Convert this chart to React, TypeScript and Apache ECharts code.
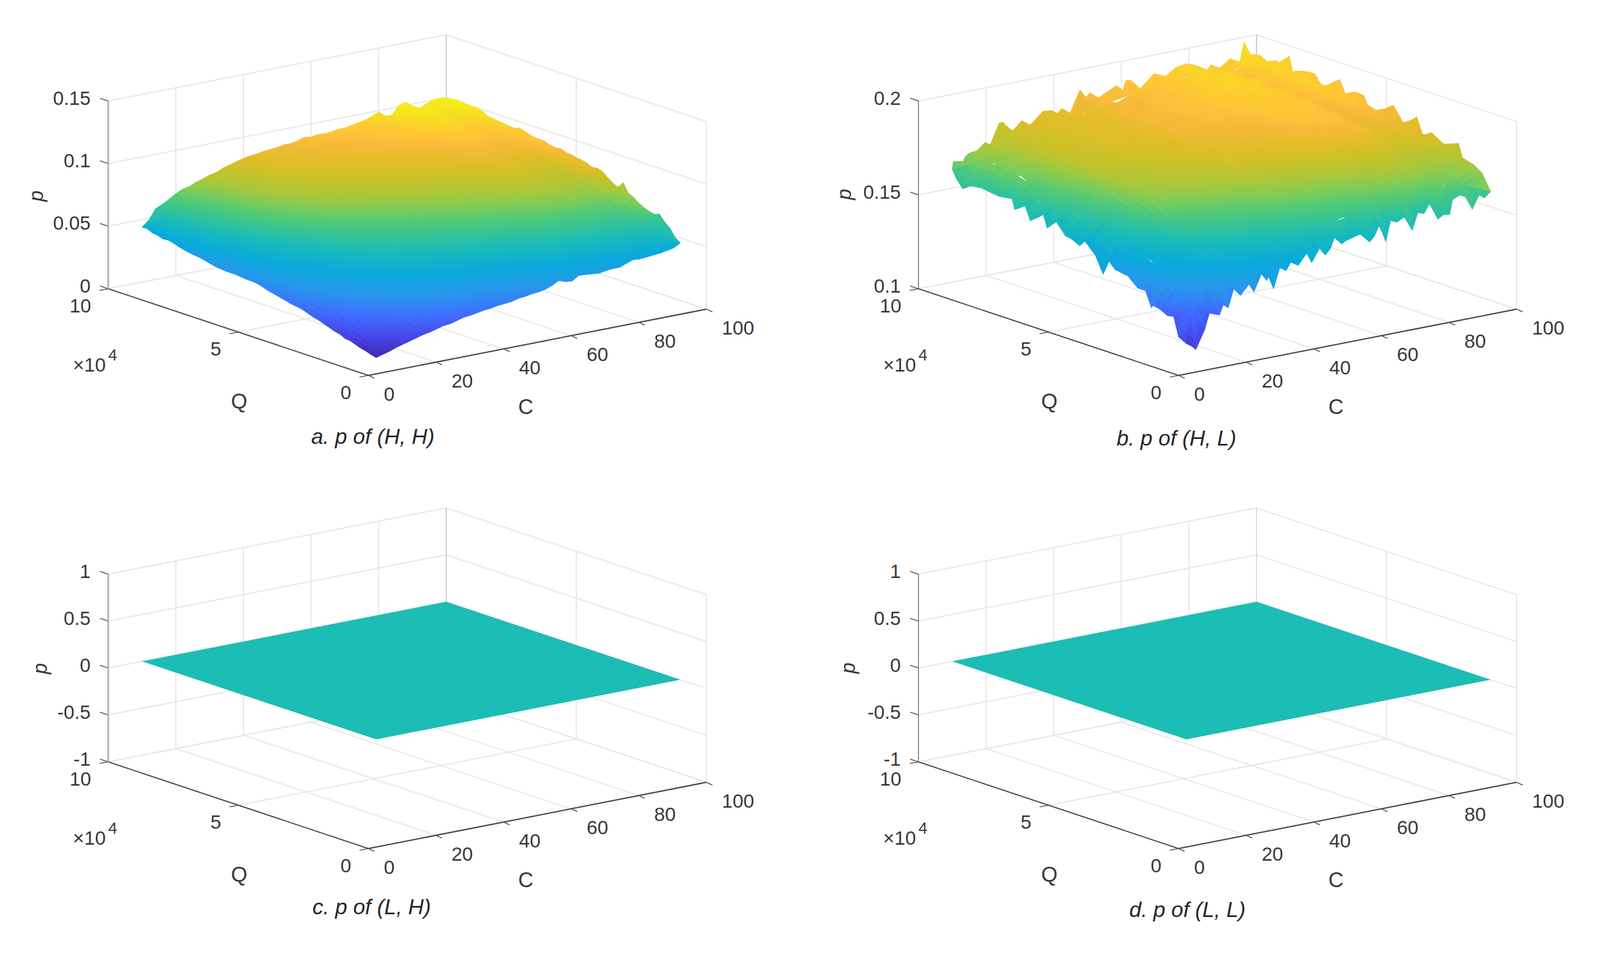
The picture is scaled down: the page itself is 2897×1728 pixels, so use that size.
import React, { useEffect, useRef } from "react";
import * as echarts from "echarts";

const C_TICKS = [0, 20, 40, 60, 80, 100];
const Q_TICKS = [0, 5, 10];
const INNER_C = [15, 20, 25, 30, 35, 40, 45, 50, 55, 60, 65, 70, 75, 80, 85, 90, 95];
const INNER_Q = [1.5, 2, 2.5, 3, 3.5, 4, 4.5, 5, 5.5, 6, 6.5, 7, 7.5, 8, 8.5, 9, 9.5];
const EDGE_C_STEPS = [10,12,14,16,18,20,22,24,26,28,30,32,34,36,38,40,42,44,46,48,50,52,54,56,58,60,62,64,66,68,70,72,74,76,78,80,82,84,86,88,90,92,94,96,98,100];
const EDGE_Q_STEPS = [1,1.2,1.4,1.6,1.8,2,2.2,2.4,2.6,2.8,3,3.2,3.4,3.6,3.8,4,4.2,4.4,4.6,4.8,5,5.2,5.4,5.6,5.8,6,6.2,6.4,6.6,6.8,7,7.2,7.4,7.6,7.8,8,8.2,8.4,8.6,8.8,9,9.2,9.4,9.6,9.8,10];

// p x 1000, rows are Q (INNER_Q), columns are C (INNER_C)
const HH_INNER = [
[12,15,21,24,27,29,31,33,35,38,40,43,45,46,47,48,50],
[17,21,26,30,33,36,38,40,41,44,46,49,51,52,53,54,55],
[21,26,31,36,39,41,43,45,47,50,52,54,56,57,58,59,59],
[25,30,35,40,43,46,48,50,51,54,56,58,60,61,62,63,63],
[29,34,39,44,47,50,52,54,56,58,60,62,64,65,67,67,67],
[32,38,43,47,51,54,56,58,59,62,63,65,67,69,70,71,70],
[35,41,47,51,54,57,59,61,63,65,67,69,71,72,74,74,74],
[38,44,49,54,57,60,62,64,66,68,70,71,73,75,77,77,76],
[40,47,52,57,60,63,65,67,69,71,73,74,76,78,80,80,79],
[43,49,55,59,63,66,68,70,72,74,75,77,79,81,83,83,82],
[45,52,58,62,66,69,71,74,75,77,78,80,82,84,86,86,85],
[47,54,60,65,68,72,74,76,77,79,81,82,84,86,88,88,87],
[49,57,62,67,71,74,76,78,80,82,83,84,86,88,91,91,89],
[51,58,64,69,73,76,78,80,81,83,84,86,88,89,92,93,92],
[53,60,65,71,74,78,80,82,83,85,87,88,90,92,94,96,94],
[54,61,67,72,76,80,82,84,85,87,88,89,91,93,96,97,96],
[56,63,68,73,77,81,83,85,86,88,89,90,92,94,98,99,98],
];
const HH_EDGE_Q10 = [44,48.5,56.5,59,62,65.5,68,69,71.5,73,75,76,78.5,80,81.5,83,84,84.5,85.5,86,86.5,87.5,87.5,88.5,90.5,89.5,90.5,90,90.5,91.5,91.5,92.5,93.5,94.5,96.5,99,94.5,94.5,101,102.5,98,95,98,100,100.5,99.5];
const HH_EDGE_Q1 = [2,3.5,5,7,8.5,10,11.5,13,14,15.5,17,17.5,19,20.5,21,22,23,23.5,24.5,25,25.5,27,27.5,28.5,29,30,32,35,33,32.5,36,35.5,35,34.5,35.5,36,36,38,40,39.5,40,40.5,41,42,43,46];
const HH_EDGE_C10 = [2,3,4.5,5.5,7,8.5,9,11,12,13.5,15,16.5,17.5,19,20.5,21.5,22,23,24,25,26,27,28.5,29.5,30,30,30.5,31,31,31,31.5,32,33,34,35,35.5,36,37,38,39.5,40.5,40,41.5,42,44,44];
const HH_EDGE_C100 = [46,49,55,58.5,63.5,62,63,64.5,67,70,72,79,74,76,79,82.5,83.5,83,85,86,86.5,87.5,88,89.5,89,89.5,91,91.5,91.5,92.5,94,95,93.5,94,94.5,95,95.5,96,98.5,100,99.5,100,100.5,101,100,99.5];

const HL_INNER = [
[124,132,138,142,143,147,148,152,153,156,155,159,159,162,160,163,161],
[133,137,147,146,151,152,156,156,160,160,162,163,166,166,168,166,168],
[136,143,150,154,155,159,159,164,163,166,165,169,169,173,171,170,171],
[142,147,158,157,162,161,165,166,169,169,171,172,175,175,177,172,175],
[144,152,160,163,164,168,167,172,171,175,173,178,177,181,179,177,178],
[149,155,167,165,170,169,173,174,177,177,179,180,183,182,184,178,182],
[150,159,167,170,171,174,173,179,177,181,179,184,183,186,184,181,184],
[154,159,171,170,175,174,177,179,181,180,183,183,187,186,186,181,185],
[154,163,171,173,174,177,177,182,180,184,182,186,186,187,185,184,187],
[158,162,174,172,177,176,179,181,183,182,185,185,188,187,188,182,187],
[158,165,173,176,176,179,178,184,182,186,184,188,187,188,187,185,188],
[161,165,176,174,179,177,181,182,184,184,186,187,189,188,189,184,189],
[160,167,174,177,178,180,179,185,183,186,185,188,188,190,188,186,190],
[164,166,177,175,180,178,181,183,185,185,187,188,190,189,190,184,190],
[163,169,175,177,178,180,179,185,182,186,185,189,188,191,189,187,191],
[166,167,177,175,180,178,181,183,184,184,186,187,190,189,190,184,190],
[165,170,175,177,178,180,179,185,182,186,184,189,188,191,188,187,191],
];
// [C or Q, p x 1000] read along each rim of the surface
const HL_EDGE_Q10 = [[10,160],[10.3,164],[12.8,161.6],[13.9,165.6],[15,167],[17.2,167.4],[19.7,171],[21.2,169],[23.8,179.7],[24.9,180],[27.4,173.5],[30.6,178.8],[32.5,174.7],[36.8,181.5],[39.4,181],[40.6,178.5],[42.4,181],[44.5,176.5],[47.8,189],[49.3,184],[50.7,186.5],[53,182.6],[58.5,187.6],[59.9,182],[61.4,189.4],[62.8,189],[65,182.4],[69.7,190],[73,187.4],[76.2,191],[79,192],[81.4,190.6],[84.3,183.8],[86.5,188.8],[89,186],[92.3,190],[95,186.5],[96.3,197.6],[97,188.7],[98.9,190],[100,189.5]];
const HL_EDGE_C100 = [[10,189.5],[9.8,189.4],[9.53,186.8],[9.24,189.7],[8.9,188],[8.74,194.4],[8.55,183.5],[8.2,189],[7.77,189.7],[7.53,185.3],[7.07,183.5],[6.8,191],[6.5,181.8],[6.2,187],[5.87,186.8],[5.73,182.4],[5.16,180],[4.74,186.8],[4.3,178],[3.84,184.7],[3.6,176],[3.27,179],[2.8,175],[2.23,178],[2.08,171],[1.65,169.4],[1.33,166.5],[1,158]];
const HL_EDGE_Q1 = [[100,158],[98.2,155.3],[96.7,157.6],[94.6,150.6],[93.1,157.4],[90.9,159.4],[88.7,157.6],[87.9,150],[86,150.6],[84.4,148.8],[82.2,158.8],[80.3,153.2],[78.5,154.4],[76.8,145.6],[74.5,153.5],[72.3,151.5],[70.4,153],[69,142.4],[67.2,152.4],[65.7,146.5],[64.2,143.8],[61.4,149],[57,146.8],[56,145.6],[53.8,149.7],[52.6,144.4],[51.1,141.4],[49.4,145.6],[47.1,138.9],[45.7,144.7],[43.1,138.8],[40.9,141.2],[39.5,137.3],[37.6,139.4],[35.8,129],[34.7,137.4],[33.8,134],[32.2,138],[30,129.4],[28.5,133.8],[26,128.8],[24,133],[22.4,123.5],[20.9,125.6],[19.8,120.6],[16.8,122.6],[15.4,114.3],[12.8,104.6],[11.5,107],[10,108.8]];
const HL_EDGE_C10 = [[1,108.8],[1.3,111],[1.49,121],[1.73,120.3],[2.03,122.4],[2.27,123.2],[2.35,121.8],[2.57,129.7],[2.87,129.7],[3.25,134.4],[3.75,135.6],[4.04,140],[4.2,131],[4.5,139.7],[4.9,145.3],[5.1,142],[5.4,144],[5.65,144.7],[6,150.6],[6.35,145.6],[6.5,152],[7,146.5],[7.2,153.5],[7.6,149.7],[7.7,155],[8.2,154],[8.6,154.7],[8.9,155.3],[9.3,154.4],[9.6,151.5],[9.85,156],[10,160]];

const LH_FLAT = [[0, 0], [0, 0]];
const LL_FLAT = [[0, 0], [0, 0]];

const FONT = "'Liberation Sans', Arial, sans-serif";
const TEXT = "#383838";

const withSteps = (steps: number[], vals: number[]) => steps.map((s, i) => [s, vals[i]]);

const PANELS: any[] = [
  { title: "a. p of (H, H)", ox: 0, oy: 0, titleX: 675, titleY: 790, pX: 65, pY: 355, zMin: 0, zMax: 0.15, zTicks: [0, 0.05, 0.1, 0.15], zLabels: ["0", "0.05", "0.1", "0.15"], range: [2, 103], inner: HH_INNER,
    edges: { q10: withSteps(EDGE_C_STEPS, HH_EDGE_Q10), c100: withSteps(EDGE_Q_STEPS, HH_EDGE_C100).reverse(), q1: withSteps(EDGE_C_STEPS, HH_EDGE_Q1).reverse(), c10: withSteps(EDGE_Q_STEPS, HH_EDGE_C10) }, zAxis: ["#adadad", 3], back: "#bdbdbd" },
  { title: "b. p of (H, L)", ox: 1467, oy: 0, titleX: 663, titleY: 793, pX: 61, pY: 352, zMin: 0.1, zMax: 0.2, zTicks: [0.1, 0.15, 0.2], zLabels: ["0.1", "0.15", "0.2"], range: [104, 198], inner: HL_INNER,
    edges: { q10: HL_EDGE_Q10, c100: HL_EDGE_C100, q1: HL_EDGE_Q1, c10: HL_EDGE_C10 }, zAxis: ["#707070", 1.6], back: "#bdbdbd" },
  { title: "c. p of (L, H)", ox: 0, oy: 857, titleX: 673, titleY: 785, pX: 72, pY: 354, zMin: -1, zMax: 1, zTicks: [-1, -0.5, 0, 0.5, 1], zLabels: ["-1", "-0.5", "0", "0.5", "1"], flat: LH_FLAT, zAxis: ["#adadad", 3], back: "#bdbdbd" },
  { title: "d. p of (L, L)", ox: 1467, oy: 857, titleX: 683, titleY: 790, pX: 68, pY: 353, zMin: -1, zMax: 1, zTicks: [-1, -0.5, 0, 0.5, 1], zLabels: ["-1", "-0.5", "0", "0.5", "1"], flat: LL_FLAT, zAxis: ["#707070", 1.6], back: "#d0d0d0" },
];

const PARULA: number[][] = [
  [0, 0.2422, 0.1504, 0.6603], [0.1, 0.2803, 0.2782, 0.9221], [0.2, 0.244, 0.4358, 0.9988], [0.3, 0.154, 0.5902, 0.9218],
  [0.4, 0.03, 0.67, 0.86], [0.5, 0.11, 0.74, 0.71], [0.6, 0.31, 0.79, 0.47], [0.65, 0.5, 0.8, 0.35], [0.7, 0.67, 0.78, 0.22],
  [0.75, 0.78, 0.76, 0.16], [0.8, 0.88, 0.74, 0.15], [0.85, 0.97, 0.73, 0.22], [0.875, 1, 0.765, 0.22], [0.9, 0.99, 0.8, 0.18],
  [0.95, 0.96, 0.9, 0.11], [1, 0.976, 0.983, 0.054],
];
function parula(t: number) {
  const v = Math.max(0, Math.min(1, t));
  let i = 0;
  while (i < PARULA.length - 2 && PARULA[i + 1][0] < v) i++;
  const a = PARULA[i], b = PARULA[i + 1];
  const f = (v - a[0]) / (b[0] - a[0]);
  const c = [1, 2, 3].map((k) => Math.round((a[k] + (b[k] - a[k]) * f) * 255));
  return `rgb(${c[0]},${c[1]},${c[2]})`;
}

const clamp = (v: number, a: number, b: number) => Math.max(a, Math.min(b, v));

function buildCells(panel: any) {
  const cells: any[] = [];
  if (panel.flat) {
    const f = panel.flat;
    cells.push({ pts: [[10, 1, f[0][0]], [100, 1, f[0][1]], [100, 10, f[1][1]], [10, 10, f[1][0]]], p: f[0][0], t: (f[0][0] - panel.zMin) / (panel.zMax - panel.zMin), stroke: false });
    return cells;
  }
  const T = panel.inner;
  const nC = INNER_C.length, nQ = INNER_Q.length;
  const innerAt = (C: number, Q: number) => {
    const x = clamp((C - 15) / 5, 0, nC - 1), y = clamp((Q - 1.5) / 0.5, 0, nQ - 1);
    const i = Math.min(nC - 2, Math.floor(x)), j = Math.min(nQ - 2, Math.floor(y));
    const fx = x - i, fy = y - j;
    return (T[j][i] * (1 - fx) * (1 - fy) + T[j][i + 1] * fx * (1 - fy) + T[j + 1][i] * (1 - fx) * fy + T[j + 1][i + 1] * fx * fy) / 1000;
  };
  const [lo, hi] = panel.range;
  const colourT = (p: number) => (p * 1000 - lo) / (hi - lo);
  const add = (pts: number[][], colourP?: number) => {
    const p = pts.reduce((s, q) => s + q[2], 0) / pts.length;
    cells.push({ pts, p, t: colourT(colourP === undefined ? p : colourP), stroke: true });
  };
  // Thin rim spikes are blurred into their neighbours in the picture, so a rim quad's colour follows the local rim level.
  const rimLevel = (list: number[][], k: number) => {
    let sum = 0, n = 0;
    for (let i = Math.max(0, k - 3); i <= Math.min(list.length - 1, k + 3); i++) { sum += list[i][1]; n++; }
    return sum / n / 1000;
  };
  const strip = (list: number[][], fixed: "Q" | "C", at: number) => {
    const L = 4;
    const outer = (s: number[]) => (fixed === "Q" ? [s[0], at, s[1] / 1000] : [at, s[0], s[1] / 1000]);
    const inward = (s: number[]) => {
      const C = fixed === "Q" ? clamp(s[0], 15, 95) : clamp(at, 15, 95);
      const Q = fixed === "Q" ? clamp(at, 1.5, 9.5) : clamp(s[0], 1.5, 9.5);
      return [C, Q, innerAt(C, Q)];
    };
    const mix = (a: number[], b: number[], f: number) => a.map((v, i) => v + (b[i] - v) * f);
    for (let k = 0; k < list.length - 1; k++) {
      const oa = outer(list[k]), ob = outer(list[k + 1]), ia = inward(list[k]), ib = inward(list[k + 1]);
      const level = (rimLevel(list, k) + rimLevel(list, k + 1)) / 2;
      const rimP = (oa[2] + ob[2]) / 2;
      const innerP = (ia[2] + ib[2]) / 2;
      const damped = level + (rimP - level) * 0.3;
      for (let l = 0; l < L; l++) {
        const s0 = l / L, s1 = (l + 1) / L;
        const sm = (s0 + s1) / 2;
        add([mix(oa, ia, s0), mix(ob, ib, s0), mix(ob, ib, s1), mix(oa, ia, s1)], damped + (innerP - damped) * sm);
      }
    }
  };
  strip(panel.edges.q10, "Q", 10);
  strip(panel.edges.c100, "C", 100);
  const S = 4;
  for (let j = nQ - 2; j >= 0; j--) {
    for (let i = nC - 2; i >= 0; i--) {
      for (let b = S - 1; b >= 0; b--) {
        for (let a = S - 1; a >= 0; a--) {
          const at = (u: number, v: number) => {
            const C = INNER_C[i] + (5 * u) / S, Q = INNER_Q[j] + (0.5 * v) / S;
            return [C, Q, innerAt(C, Q)];
          };
          add([at(a, b), at(a + 1, b), at(a + 1, b + 1), at(a, b + 1)]);
        }
      }
    }
  }
  strip(panel.edges.c10, "C", 10);
  strip(panel.edges.q1, "Q", 1);
  return cells;
}

function buildOption() {
  const grids: any[] = [], xAxes: any[] = [], yAxes: any[] = [], series: any[] = [];
  PANELS.forEach((panel, idx) => {
    grids.push({ left: panel.ox, top: panel.oy, width: 1430, height: 860, show: false });
    xAxes.push({ gridIndex: idx, type: "value", min: 0, max: 1430, show: false });
    yAxes.push({ gridIndex: idx, type: "value", min: 0, max: 860, inverse: true, show: false });

    const proj = (C: number, Q: number, p: number) => {
      const h = ((p - panel.zMin) / (panel.zMax - panel.zMin)) * 340;
      return [667 + 6.12 * C - 47.1 * Q, 680 - 1.2 * C - 15.7 * Q - h];
    };
    const { zMin, zMax } = panel;
    const GRID = "#e6e6e6";
    const back: any[] = [];
    const line = (a: number[], b: number[], color: string, w: number) => back.push({ kind: "line", a, b, color, w });
    const text = (x: number, y: number, s: string, o: any = {}) => back.push({ kind: "text", x, y, s, ...o });

    panel.zTicks.forEach((z: number, i: number) => {
      line(proj(0, 10, z), proj(100, 10, z), GRID, 2);
      line(proj(100, 10, z), proj(100, 0, z), GRID, 2);
      const l = proj(0, 10, z);
      line([l[0] - 15, l[1] - 5], l, "#505050", 1.6);
      text(l[0] - 32, l[1] - 6, panel.zLabels[i], { align: "right" });
    });
    C_TICKS.forEach((c) => {
      line(proj(c, 10, zMin), proj(c, 0, zMin), GRID, 2);
      if (c > 0) line(proj(c, 10, zMin), proj(c, 10, zMax), c === 100 ? panel.back : GRID, c === 100 ? 1.6 : 2);
      const t = proj(c, 0, zMin);
      line(t, [t[0] + 11, t[1] + 5], "#505050", 1.6);
      text(t[0] + 28, t[1] + 33, String(c));
    });
    Q_TICKS.forEach((q) => {
      line(proj(0, q, zMin), proj(100, q, zMin), q === 0 ? "#4a4a4a" : GRID, 2);
      if (q < 10) line(proj(100, q, zMin), proj(100, q, zMax), GRID, 2);
      const t = proj(0, q, zMin);
      line(t, [t[0] - 16, t[1] + 3], "#505050", 1.6);
      text(t[0] - 31, t[1] + 30, String(q), { align: "right" });
    });
    line(proj(0, 0, zMin), proj(0, 10, zMin), "#4a4a4a", 2);
    line(proj(0, 0, zMin), proj(100, 0, zMin), "#4a4a4a", 2);
    line(proj(0, 10, zMin), proj(0, 10, zMax), panel.zAxis[0], panel.zAxis[1]);

    text(132, 660, "×10");
    text(196, 643, "4", { size: 29 });
    text(433, 727, "Q", { align: "center", size: 38 });
    text(952, 737, "C", { align: "center", size: 38 });
    text(panel.pX, panel.pY, "p", { align: "center", italic: true, rotation: Math.PI / 2, size: 36 });
    text(panel.titleX, panel.titleY, panel.title, { align: "center", italic: true, size: 39, color: "#262626" });

    const renderBack = (params: any, api: any) => {
      const it = back[params.dataIndex];
      if (it.kind === "line") {
        const a = api.coord(it.a), b = api.coord(it.b);
        return { type: "line", shape: { x1: a[0], y1: a[1], x2: b[0], y2: b[1] }, style: { stroke: it.color, lineWidth: it.w } };
      }
      const pos = api.coord([it.x, it.y]);
      return {
        type: "text", x: pos[0], y: pos[1], rotation: it.rotation || 0,
        style: { text: it.s, fill: it.color || TEXT, align: it.align || "left", verticalAlign: "middle",
          font: `${it.italic ? "italic " : ""}${it.size || 35}px ${FONT}` },
      };
    };
    series.push({ type: "custom", name: `frame${idx}`, xAxisIndex: idx, yAxisIndex: idx, coordinateSystem: "cartesian2d", clip: false, silent: true, z: 1,
      data: back.map((it) => (it.kind === "line" ? it.a : [it.x, it.y])), renderItem: renderBack });

    const cells = buildCells(panel);
    const renderCell = (params: any, api: any) => {
      const c = cells[params.dataIndex];
      const col = parula(c.t);
      return { type: "polygon", shape: { points: c.pts.map((q: number[]) => api.coord(proj(q[0], q[1], q[2]))) },
        style: c.stroke ? { fill: col, stroke: col, lineWidth: 1 } : { fill: col } };
    };
    series.push({ type: "custom", name: `surface${idx}`, xAxisIndex: idx, yAxisIndex: idx, coordinateSystem: "cartesian2d", clip: false, silent: true, z: 2,
      data: cells.map((c) => proj(c.pts[0][0], c.pts[0][1], c.pts[0][2])), renderItem: renderCell });
  });
  return { animation: false, backgroundColor: "#ffffff", grid: grids, xAxis: xAxes, yAxis: yAxes, series };
}

export default function App() {
  const ref = useRef<HTMLDivElement>(null);
  useEffect(() => {
    document.body.style.margin = "0";
    const chart = echarts.init(ref.current!, undefined, { renderer: "svg" });
    chart.setOption(buildOption() as any);
    return () => chart.dispose();
  }, []);
  return <div ref={ref} style={{ width: 2897, height: 1728 }} />;
}
